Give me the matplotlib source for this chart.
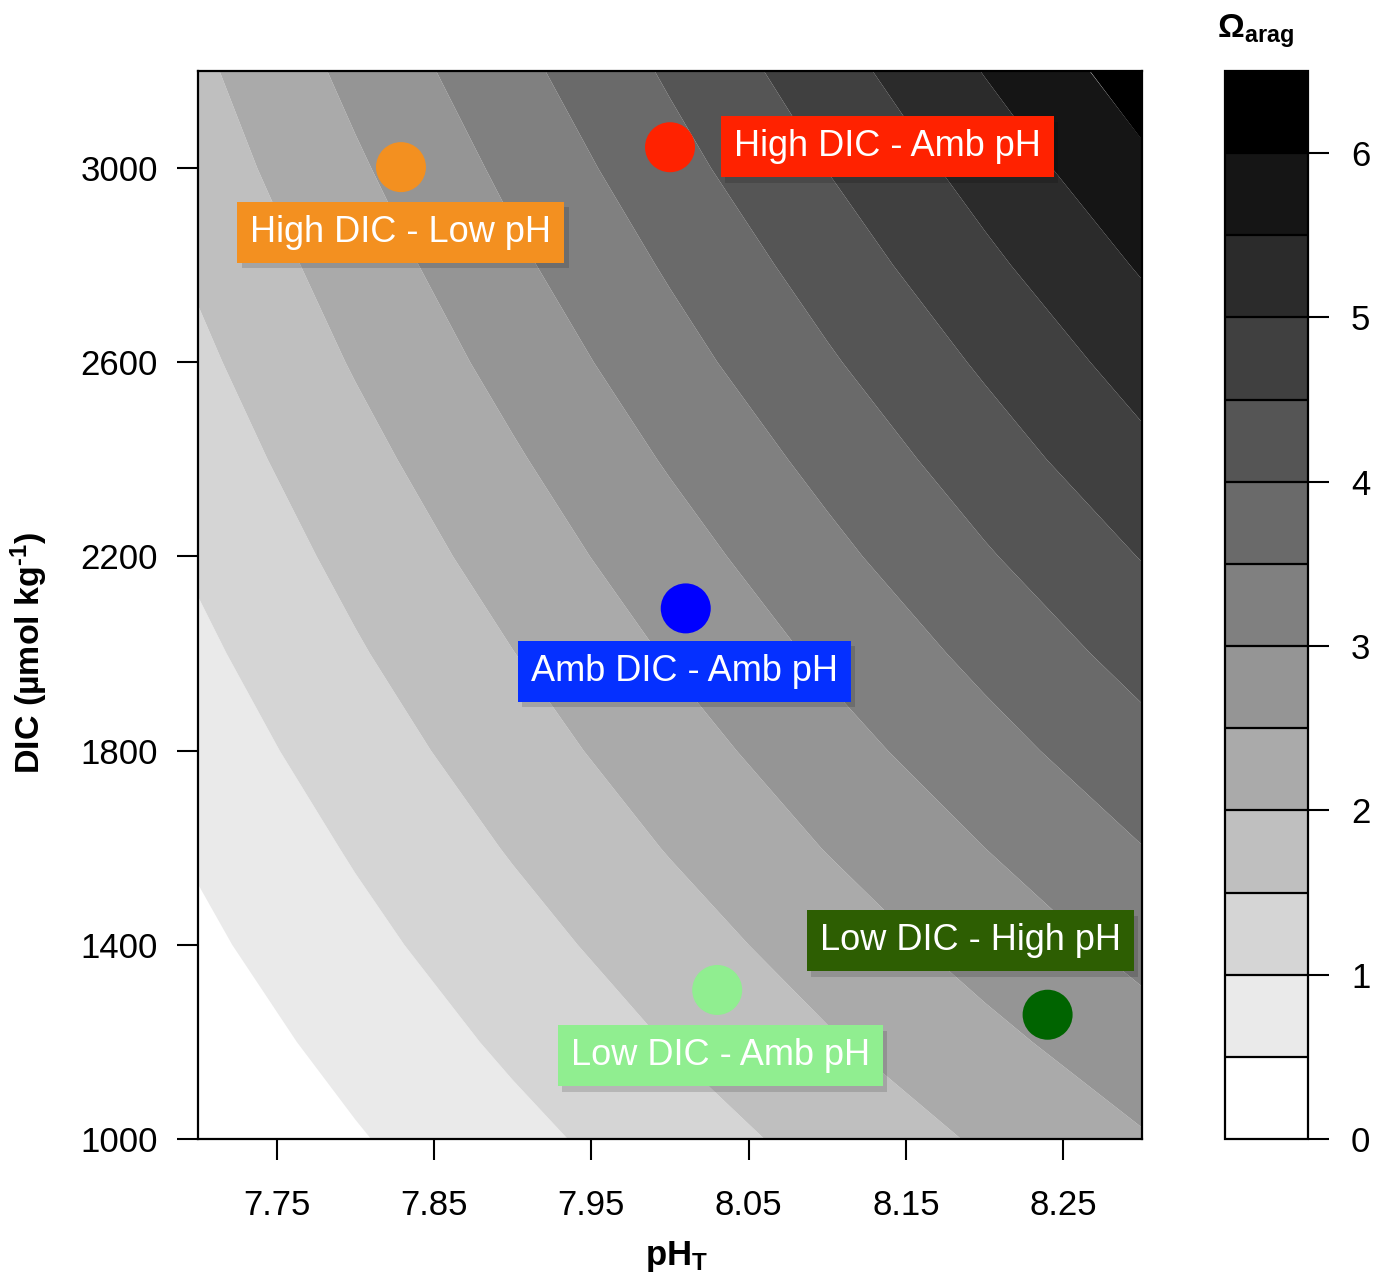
import numpy as np
import matplotlib
matplotlib.use("Agg")
import matplotlib.pyplot as plt
import matplotlib.patheffects as pe
from matplotlib.colors import ListedColormap

plt.rcParams['font.family'] = ['Liberation Sans', 'DejaVu Sans']
plt.rcParams['mathtext.fontset'] = 'custom'
plt.rcParams['mathtext.rm'] = 'Liberation Sans:bold'
plt.rcParams['mathtext.bf'] = 'Liberation Sans:bold'
plt.rcParams['mathtext.it'] = 'Liberation Sans:bold'
plt.rcParams['mathtext.default'] = 'bf'

# ---------------- data ----------------
ph_grid = [7.70, 7.80, 7.90, 8.00, 8.10, 8.20, 8.30]
dic_grid = [1000, 1200, 1400, 1600, 1800, 2000, 2200, 2400, 2600, 2800, 3000, 3200]
omega_grid = [
    [0.06, 0.46, 0.86, 1.26, 1.66, 2.06, 2.46],
    [0.23, 0.66, 1.09, 1.52, 1.95, 2.37, 2.80],
    [0.40, 0.86, 1.31, 1.77, 2.23, 2.69, 3.15],
    [0.56, 1.05, 1.54, 2.03, 2.52, 3.00, 3.49],
    [0.73, 1.25, 1.77, 2.28, 2.80, 3.32, 3.83],
    [0.90, 1.45, 1.99, 2.54, 3.09, 3.63, 4.18],
    [1.07, 1.64, 2.22, 2.79, 3.37, 3.95, 4.52],
    [1.23, 1.84, 2.44, 3.05, 3.65, 4.26, 4.87],
    [1.40, 2.04, 2.67, 3.31, 3.94, 4.57, 5.21],
    [1.57, 2.23, 2.90, 3.56, 4.22, 4.89, 5.55],
    [1.74, 2.43, 3.12, 3.82, 4.51, 5.20, 5.90],
    [1.90, 2.63, 3.35, 4.07, 4.79, 5.52, 6.24],
]
omega_levels = [0, 0.5, 1, 1.5, 2, 2.5, 3, 3.5, 4, 4.5, 5, 5.5, 6, 6.5]
colorbar_ticks = [0, 1, 2, 3, 4, 5, 6]

treatments = ["High DIC - Low pH", "High DIC - Amb pH", "Amb DIC - Amb pH",
              "Low DIC - High pH", "Low DIC - Amb pH"]
point_ph = [7.829, 8.000, 8.010, 8.240, 8.030]
point_dic = [3002, 3043, 2093, 1256, 1307]
label_ph = [7.829, 8.138, 8.009, 8.191, 8.032]
label_dic = [2868, 3044, 1964, 1409, 1172]
point_colors = ["#F39020", "#FF2200", "#0000FF", "#006400", "#90EE90"]
box_colors = ["#F39020", "#FF2200", "#0530FF", "#2D5E02", "#90EE90"]

x_ticks = [7.75, 7.85, 7.95, 8.05, 8.15, 8.25]
y_ticks = [1000, 1400, 1800, 2200, 2600, 3000]

# ---------------- figure ----------------
W, H = 1373, 1286
fig = plt.figure(figsize=(W / 100, H / 100), dpi=100)
ax = fig.add_axes([198 / W, 1 - 1139 / H, (1142 - 198) / W, (1139 - 71) / H])
cax = fig.add_axes([1225 / W, 1 - 1139 / H, (1308 - 1225) / W, (1139 - 71) / H])

n_bands = len(omega_levels) - 1
grays = np.linspace(1, 0, n_bands)
cmap = ListedColormap([(g, g, g) for g in grays])

X, Y = np.meshgrid(ph_grid, dic_grid)
Z = np.array(omega_grid)
cf = ax.contourf(X, Y, Z, levels=omega_levels, cmap=cmap,
                 vmin=omega_levels[0], vmax=omega_levels[-1], antialiased=True)

ax.set_xlim(7.70, 8.30)
ax.set_ylim(1000, 3200)

# points
ax.scatter(point_ph, point_dic, s=36 ** 2, c=point_colors, edgecolors='none', zorder=3)

# labels in coloured boxes with a soft drop shadow
fs_lab = 26
shadow = [pe.SimplePatchShadow(offset=(3, -4), shadow_rgbFace='black', alpha=0.14),
          pe.Normal()]
for name, lp, ld, bc in zip(treatments, label_ph, label_dic, box_colors):
    t = ax.text(lp, ld, name, fontsize=fs_lab, color='white', ha='center', va='center',
                zorder=5,
                bbox=dict(boxstyle='square,pad=0.36', facecolor=bc, edgecolor='none'))
    t.get_bbox_patch().set_path_effects(shadow)

ax.set_xticks(x_ticks)
ax.set_xticklabels([f"{v:.2f}" for v in x_ticks])
ax.set_yticks(y_ticks)
ax.set_yticklabels([str(v) for v in y_ticks])
ax.tick_params(axis='x', direction='out', length=15, width=1.5, labelsize=25, pad=21)
ax.tick_params(axis='y', direction='out', length=15, width=1.5, labelsize=25, pad=14)
for s in ax.spines.values():
    s.set_linewidth(1.6)
    s.set_color('black')

# colorbar
cb = fig.colorbar(cf, cax=cax, ticks=colorbar_ticks, drawedges=True)
cb.outline.set_linewidth(1.6)
cb.outline.set_edgecolor('black')
cb.dividers.set_color('black')
cb.dividers.set_linewidth(1.6)
cax.tick_params(axis='y', direction='out', length=15, width=1.5, labelsize=25, pad=16)
cb.set_ticklabels([str(t) for t in colorbar_ticks])

# axis titles
fig.text(677 / W, 1 - 1257 / H, r'pH$_{T}$', fontsize=25, fontweight='bold',
         ha='center', va='center')
fig.text(29 / W, 1 - 653 / H, 'DIC (µmol kg$^{\u20101}$)',
         fontsize=24.5, fontweight='bold', rotation=90, ha='center', va='center')
fig.text(1255 / W, 1 - 31 / H, r'Ω$_{arag}$', fontsize=24, fontweight='bold',
         ha='center', va='center')

fig.savefig('out.png', dpi=100)
